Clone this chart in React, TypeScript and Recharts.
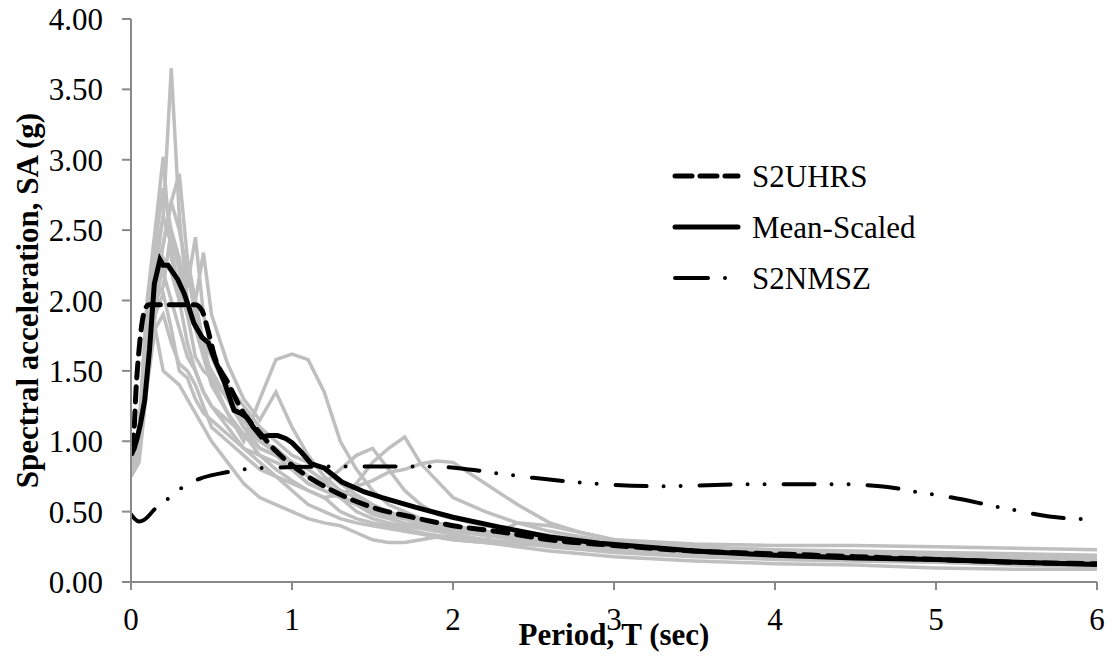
import React from "react";
import { LineChart, Line, XAxis, YAxis, Legend, Label } from "recharts";

// ---------- data ----------
const grayPeriods = [0, 0.05, 0.1, 0.15, 0.2, 0.25, 0.3, 0.35, 0.4, 0.45, 0.5, 0.6, 0.7, 0.8, 0.9, 1.0, 1.1, 1.2, 1.3, 1.4, 1.5, 1.6, 1.7, 1.8, 1.9, 2.0, 2.2, 2.4, 2.6, 2.8, 3.0, 3.5, 4.0, 4.5, 5.0, 5.5, 6.0];

const rec1 = [0.85, 1.0, 1.6, 2.2, 2.6, 3.65, 2.6, 2.0, 1.8, 1.7, 1.6, 1.35, 1.15, 1.0, 0.95, 0.85, 0.75, 0.7, 0.62, 0.55, 0.5, 0.47, 0.45, 0.42, 0.4, 0.38, 0.35, 0.33, 0.3, 0.28, 0.26, 0.22, 0.2, 0.18, 0.17, 0.16, 0.15];
const rec2 = [0.8, 1.1, 2.0, 2.5, 3.02, 2.3, 2.1, 1.9, 1.6, 1.5, 1.45, 1.3, 1.1, 0.95, 0.9, 0.8, 0.7, 0.65, 0.6, 0.55, 0.48, 0.45, 0.42, 0.4, 0.38, 0.36, 0.33, 0.3, 0.28, 0.26, 0.24, 0.2, 0.18, 0.17, 0.16, 0.14, 0.13];
const rec3 = [0.8, 0.95, 1.5, 2.2, 2.4, 2.7, 2.9, 2.3, 2.0, 1.7, 1.45, 1.2, 1.0, 1.3, 1.58, 1.62, 1.58, 1.35, 1.0, 0.8, 0.65, 0.55, 0.5, 0.45, 0.42, 0.4, 0.36, 0.33, 0.3, 0.28, 0.26, 0.22, 0.19, 0.17, 0.16, 0.15, 0.14];
const rec4 = [0.78, 0.9, 1.4, 1.9, 2.3, 2.2, 2.0, 2.1, 2.45, 1.9, 1.65, 1.4, 1.25, 1.1, 1.0, 0.9, 0.85, 0.8, 0.7, 0.62, 0.55, 0.5, 0.46, 0.43, 0.4, 0.38, 0.35, 0.32, 0.3, 0.28, 0.26, 0.22, 0.2, 0.19, 0.18, 0.16, 0.15];
const rec5 = [0.82, 1.0, 1.7, 2.0, 2.1, 2.5, 2.2, 1.9, 2.0, 2.34, 1.9, 1.55, 1.3, 1.15, 1.35, 1.1, 0.9, 0.75, 0.65, 0.6, 0.52, 0.48, 0.45, 0.42, 0.4, 0.38, 0.34, 0.3, 0.27, 0.25, 0.23, 0.2, 0.17, 0.16, 0.15, 0.13, 0.12];
const rec6 = [0.85, 1.0, 1.8, 2.3, 2.6, 2.4, 2.0, 1.7, 1.5, 1.35, 1.25, 1.1, 0.95, 0.9, 0.85, 0.8, 0.7, 0.65, 0.6, 0.7, 0.85, 0.95, 1.03, 0.84, 0.72, 0.6, 0.5, 0.42, 0.36, 0.32, 0.28, 0.24, 0.21, 0.2, 0.19, 0.18, 0.17];
const rec7 = [0.8, 0.95, 1.6, 2.1, 2.2, 2.0, 1.8, 1.6, 1.5, 1.35, 1.25, 1.15, 1.05, 0.95, 0.9, 0.85, 0.75, 0.7, 0.8, 0.9, 0.95, 0.8, 0.65, 0.55, 0.48, 0.45, 0.4, 0.36, 0.33, 0.3, 0.28, 0.25, 0.23, 0.22, 0.21, 0.2, 0.19];
const rec8 = [0.75, 0.85, 1.4, 1.8, 1.9, 1.7, 1.55, 1.5, 1.4, 1.25, 1.1, 1.0, 0.9, 0.8, 0.75, 0.7, 0.65, 0.6, 0.62, 0.68, 0.72, 0.78, 0.8, 0.84, 0.86, 0.85, 0.7, 0.55, 0.42, 0.35, 0.3, 0.27, 0.26, 0.26, 0.25, 0.24, 0.23];
const rec9 = [0.78, 0.9, 1.5, 1.8, 1.5, 1.45, 1.4, 1.3, 1.2, 1.1, 1.0, 0.85, 0.7, 0.6, 0.55, 0.5, 0.45, 0.42, 0.4, 0.35, 0.3, 0.28, 0.28, 0.3, 0.32, 0.3, 0.28, 0.25, 0.22, 0.2, 0.18, 0.15, 0.13, 0.12, 0.1, 0.09, 0.09];
const rec10 = [0.8, 0.9, 1.6, 2.0, 2.4, 2.7, 2.5, 2.2, 1.9, 1.6, 1.4, 1.2, 1.05, 0.9, 0.8, 0.72, 0.65, 0.6, 0.5, 0.45, 0.42, 0.4, 0.38, 0.35, 0.33, 0.32, 0.3, 0.42, 0.4, 0.35, 0.3, 0.25, 0.22, 0.21, 0.2, 0.19, 0.18];
const rec11 = [0.85, 1.05, 1.9, 2.4, 2.8, 2.5, 2.3, 2.0, 1.8, 1.6, 1.5, 1.3, 1.1, 1.0, 0.92, 0.85, 0.8, 0.72, 0.6, 0.5, 0.45, 0.42, 0.4, 0.38, 0.36, 0.34, 0.3, 0.28, 0.25, 0.23, 0.21, 0.18, 0.16, 0.15, 0.14, 0.12, 0.11];
const rec12 = [0.75, 0.9, 1.5, 1.9, 2.05, 1.8, 1.5, 1.45, 1.3, 1.2, 1.15, 1.05, 0.95, 0.85, 0.75, 0.65, 0.55, 0.5, 0.45, 0.42, 0.4, 0.38, 0.36, 0.34, 0.32, 0.3, 0.28, 0.27, 0.26, 0.24, 0.22, 0.19, 0.17, 0.16, 0.15, 0.14, 0.13];
const records = [rec1, rec2, rec3, rec4, rec5, rec6, rec7, rec8, rec9, rec10, rec11, rec12];

const uhrsPeriods = [0, 0.02, 0.03, 0.05, 0.085, 0.11, 0.2, 0.3, 0.4, 0.44, 0.48, 0.52, 0.6, 0.7, 0.8, 0.9, 1.0, 1.25, 1.5, 1.75, 2.0, 2.3, 2.6, 3.0, 3.5, 4.0, 4.5, 5.0, 5.5, 6.0];
const uhrsValues = [0.94, 1.1, 1.34, 1.65, 1.93, 1.97, 1.97, 1.97, 1.97, 1.93, 1.78, 1.6, 1.42, 1.2, 1.06, 0.93, 0.83, 0.65, 0.53, 0.46, 0.4, 0.355, 0.3, 0.26, 0.22, 0.2, 0.18, 0.16, 0.14, 0.13];

const meanPeriods = [0, 0.02, 0.04, 0.06, 0.085, 0.115, 0.145, 0.18, 0.2, 0.23, 0.26, 0.29, 0.33, 0.36, 0.39, 0.44, 0.48, 0.52, 0.58, 0.64, 0.68, 0.72, 0.76, 0.81, 0.86, 0.91, 0.96, 1.0, 1.06, 1.12, 1.2, 1.31, 1.45, 1.56, 1.77, 2.0, 2.29, 2.6, 2.91, 3.5, 4.0, 4.5, 5.0, 5.5, 6.0];
const meanValues = [0.9, 0.95, 1.03, 1.13, 1.29, 1.65, 2.12, 2.29, 2.25, 2.25, 2.2, 2.15, 2.05, 1.95, 1.84, 1.74, 1.7, 1.58, 1.42, 1.22, 1.2, 1.17, 1.1, 1.03, 1.04, 1.04, 1.02, 0.99, 0.92, 0.84, 0.81, 0.71, 0.64, 0.6, 0.53, 0.46, 0.39, 0.32, 0.275, 0.22, 0.19, 0.17, 0.16, 0.14, 0.125];

const nmszPeriods = [0, 0.05, 0.08, 0.15, 0.24, 0.33, 0.43, 0.55, 0.67, 0.8, 0.96, 1.2, 1.5, 1.87, 2.1, 2.29, 2.5, 2.87, 3.3, 3.86, 4.38, 4.7, 4.88, 5.1, 5.4, 5.79, 6.0];
const nmszValues = [0.48, 0.43, 0.44, 0.52, 0.6, 0.68, 0.735, 0.77, 0.795, 0.81, 0.815, 0.82, 0.82, 0.82, 0.8, 0.77, 0.74, 0.7, 0.68, 0.695, 0.695, 0.675, 0.64, 0.6, 0.53, 0.455, 0.445];

const xTicks = [0, 1, 2, 3, 4, 5, 6];
const yTicks = [0, 0.5, 1, 1.5, 2, 2.5, 3, 3.5, 4];
const legendNames = ["S2UHRS", "Mean-Scaled", "S2NMSZ"];

// ---------- helpers ----------
const toRows = (periods: number[], values: number[]) => periods.map((T, i) => ({ T, v: values[i] }));

const FONT = "'Liberation Serif', 'Times New Roman', serif";
const AXIS = "#898989";
const UHRS_DASH = "15 9";
const NMSZ_DASH = "31 17 0 17 0 19";

const LegendBox = () => {
  const rows = [
    { name: legendNames[0], dash: "17 8", w: 5, y: 176 },
    { name: legendNames[1], dash: undefined, w: 5, y: 227 },
    { name: legendNames[2], dash: "33 17 0 60", w: 4, y: 278 },
  ];
  return (
    <svg width={300} height={150} style={{ position: "absolute", left: 0, top: 0, overflow: "visible" }}>
      {rows.map((r) => (
        <g key={r.name}>
          <line x1={3} x2={66} y1={r.y - 160} y2={r.y - 160} stroke="#000" strokeWidth={r.w} strokeDasharray={r.dash} strokeLinecap="round" />
          <text x={80} y={r.y - 160 + 11} fontFamily={FONT} fontSize={31} fill="#000">{r.name}</text>
        </g>
      ))}
    </svg>
  );
};

export default function App() {
  return (
    <div style={{ position: "absolute", left: 0, top: 0, width: 1112, height: 656, background: "#fff" }}>
      <LineChart width={1112} height={656} margin={{ top: 19, right: 15, left: 0, bottom: 0 }}>
        <XAxis
          type="number"
          dataKey="T"
          domain={[0, 6]}
          ticks={xTicks}
          allowDataOverflow
          height={74}
          stroke={AXIS}
          strokeWidth={2}
          tickSize={8}
          tickMargin={18}
          tick={{ fill: "#000", fontFamily: FONT, fontSize: 31 }}
        >
          <Label
            content={({ viewBox }: any) => (
              <text x={viewBox.x + viewBox.width / 2} y={645} textAnchor="middle" fontFamily={FONT} fontWeight="bold" fontSize={31} fill="#000">
                Period, T (sec)
              </text>
            )}
          />
        </XAxis>
        <YAxis
          type="number"
          domain={[0, 4]}
          ticks={yTicks}
          width={131}
          stroke={AXIS}
          strokeWidth={2}
          tickSize={9}
          tickMargin={19}
          tickFormatter={(v: number) => v.toFixed(2)}
          tick={{ fill: "#000", fontFamily: FONT, fontSize: 31 }}
        >
          <Label
            content={({ viewBox }: any) => {
              const cy = viewBox.y + viewBox.height / 2;
              return (
                <text x={38} y={cy} transform={`rotate(-90 38 ${cy})`} textAnchor="middle" fontFamily={FONT} fontWeight="bold" fontSize={31} fill="#000">
                  Spectral acceleration, SA (g)
                </text>
              );
            }}
          />
        </YAxis>
        {records.map((rec, i) => (
          <Line
            key={`rec${i}`}
            data={toRows(grayPeriods, rec)}
            dataKey="v"
            type="linear"
            stroke="#bfbfbf"
            strokeWidth={3.5}
            dot={false}
            legendType="none"
            isAnimationActive={false}
          />
        ))}
        <Line data={toRows(uhrsPeriods, uhrsValues)} dataKey="v" name={legendNames[0]} type="monotone" stroke="#000" strokeWidth={5} strokeDasharray={UHRS_DASH} strokeLinecap="round" dot={false} isAnimationActive={false} />
        <Line data={toRows(meanPeriods, meanValues)} dataKey="v" name={legendNames[1]} type="linear" stroke="#000" strokeWidth={5} dot={false} isAnimationActive={false} />
        <Line data={toRows(nmszPeriods, nmszValues)} dataKey="v" name={legendNames[2]} type="monotone" stroke="#000" strokeWidth={4} strokeDasharray={NMSZ_DASH} strokeLinecap="round" dot={false} isAnimationActive={false} />
        <Legend
          content={() => <LegendBox />}
          wrapperStyle={{ position: "absolute", left: 672, top: 160, width: 0, height: 0, overflow: "visible" }}
        />
      </LineChart>
    </div>
  );
}
